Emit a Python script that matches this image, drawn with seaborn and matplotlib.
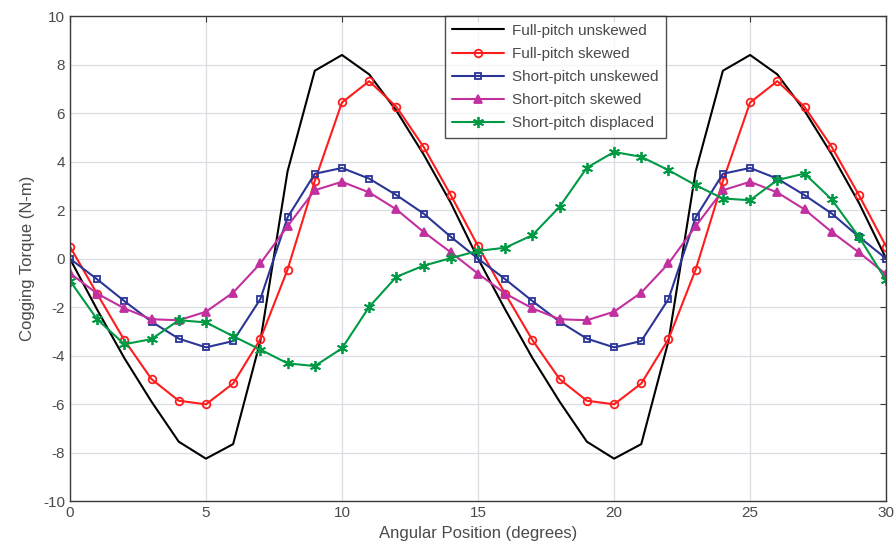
import numpy as np
import pandas as pd
import matplotlib
matplotlib.use("Agg")
import matplotlib.pyplot as plt
import seaborn as sns

# angular position (degrees)
angle = list(range(31))

# cogging torque (N-m)
full_unskewed = [0.0, -2.1, -4.1, -5.9, -7.55, -8.25, -7.65, -3.4, 3.6, 7.75, 8.4,
                 7.6, 6.1, 4.3, 2.3, 0.0, -2.1, -4.1, -5.9, -7.55, -8.25,
                 -7.65, -3.4, 3.6, 7.75, 8.4, 7.6, 6.1, 4.3, 2.3, 0.0]
full_skewed = [0.5, -1.45, -3.36, -4.97, -5.86, -6.01, -5.15, -3.32, -0.45, 3.2, 6.44,
               7.32, 6.26, 4.61, 2.62, 0.52, -1.45, -3.36, -4.97, -5.86, -6.01,
               -5.15, -3.32, -0.45, 3.2, 6.44, 7.32, 6.26, 4.61, 2.62, 0.5]
short_unskewed = [0.0, -0.85, -1.75, -2.6, -3.3, -3.66, -3.4, -1.67, 1.7, 3.5, 3.74,
                  3.3, 2.62, 1.86, 0.9, 0.0, -0.85, -1.75, -2.6, -3.3, -3.66,
                  -3.4, -1.67, 1.7, 3.5, 3.74, 3.3, 2.62, 1.86, 0.9, 0.0]
short_skewed = [-0.6, -1.44, -2.05, -2.5, -2.54, -2.19, -1.4, -0.2, 1.34, 2.82, 3.17,
                2.73, 2.03, 1.1, 0.26, -0.62, -1.44, -2.05, -2.5, -2.54, -2.19,
                -1.4, -0.2, 1.34, 2.82, 3.17, 2.73, 2.03, 1.1, 0.26, -0.65]
short_displaced = [-0.91, -2.5, -3.53, -3.32, -2.54, -2.63, -3.2, -3.75, -4.32, -4.43, -3.7,
                   -1.99, -0.75, -0.29, 0.02, 0.32, 0.45, 0.97, 2.14, 3.75, 4.4,
                   4.2, 3.65, 3.03, 2.48, 2.41, 3.24, 3.51, 2.44, 0.9, -0.9]

# name, values, colour, marker, filled, marker size
series = [
    ("Full-pitch unskewed", full_unskewed, "#000000", None, True, 0),
    ("Full-pitch skewed", full_skewed, "#ff1c1c", "o", False, 5.5),
    ("Short-pitch unskewed", short_unskewed, "#2a3596", "s", False, 5),
    ("Short-pitch skewed", short_skewed, "#c2309f", "^", True, 5.5),
    ("Short-pitch displaced", short_displaced, "#009a44", (6, 2, 0), True, 8),
]

sns.set_style("white")
plt.rcParams["font.family"] = ["Liberation Sans", "DejaVu Sans"]
plt.rcParams["axes.unicode_minus"] = False
text_col = "#4a4a4a"

fig, ax = plt.subplots(figsize=(8.96, 5.58), dpi=100)
fig.subplots_adjust(left=0.078, right=0.989, top=0.971, bottom=0.102)

for name, vals, col, mk, filled, ms in series:
    df = pd.DataFrame({"angle": angle, "torque": vals})
    kw = {}
    if mk is not None:
        kw = dict(marker=mk, markersize=ms,
                  markerfacecolor=col if filled else "none",
                  markeredgecolor=col, markeredgewidth=1.3)
    sns.lineplot(data=df, x="angle", y="torque", color=col, linewidth=1.5,
                 label=name, ax=ax, **kw)

ax.set_xlim(0, 30)
ax.set_ylim(-10, 10)
ax.set_xticks(np.arange(0, 31, 5))
ax.set_yticks(np.arange(-10, 11, 2))
ax.grid(True, color="#dcdce4", linewidth=0.9)
ax.tick_params(direction="in", top=True, right=True, length=4,
               labelsize=11, colors="#3a3a3a", labelcolor=text_col)
for sp in ax.spines.values():
    sp.set_color("#3a3a3a")
    sp.set_linewidth(1.0)

ax.set_xlabel("Angular Position (degrees)", fontsize=12, color=text_col, labelpad=4)
ax.set_ylabel("Cogging Torque (N-m)", fontsize=12, color=text_col, labelpad=6)

leg = ax.legend(loc="upper left", bbox_to_anchor=(0.459, 1.0), fontsize=11,
                frameon=True, fancybox=False, edgecolor="#222222",
                handlelength=3.4, borderpad=0.5, labelspacing=0.6,
                handletextpad=0.5, borderaxespad=0.0)
leg.get_frame().set_linewidth(1.0)
for t in leg.get_texts():
    t.set_color(text_col)

fig.savefig("out.png", dpi=100)
